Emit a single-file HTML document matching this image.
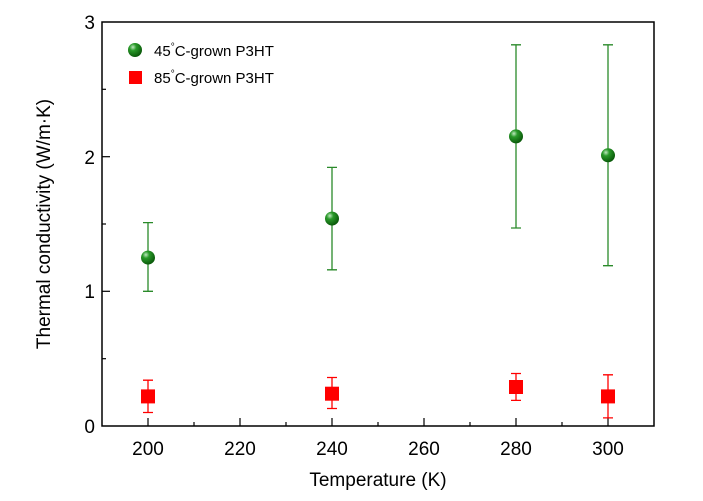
<!DOCTYPE html>
<html><head><style>body{margin:0;background:#fff}</style></head><body>
<svg width="703" height="496" xmlns="http://www.w3.org/2000/svg" font-family="Liberation Sans, Arial, sans-serif">
<defs><radialGradient id="g" cx="0.35" cy="0.3" r="0.7"><stop offset="0" stop-color="#bfe8bf"/><stop offset="0.35" stop-color="#2a9a2a"/><stop offset="1" stop-color="#0a5a0a"/></radialGradient></defs>
<rect x="102" y="22" width="552" height="404" fill="none" stroke="#000" stroke-width="1.5"/>
<g stroke="#000" stroke-width="1.2">
<line x1="148" y1="426" x2="148" y2="418"/><line x1="194" y1="426" x2="194" y2="422"/>
<line x1="240" y1="426" x2="240" y2="418"/><line x1="286" y1="426" x2="286" y2="422"/>
<line x1="332" y1="426" x2="332" y2="418"/><line x1="378" y1="426" x2="378" y2="422"/>
<line x1="424" y1="426" x2="424" y2="418"/><line x1="470" y1="426" x2="470" y2="422"/>
<line x1="516" y1="426" x2="516" y2="418"/><line x1="562" y1="426" x2="562" y2="422"/>
<line x1="608" y1="426" x2="608" y2="418"/>
<line x1="102" y1="358.7" x2="106" y2="358.7"/><line x1="102" y1="291.3" x2="110" y2="291.3"/>
<line x1="102" y1="224" x2="106" y2="224"/><line x1="102" y1="156.7" x2="110" y2="156.7"/>
<line x1="102" y1="89.3" x2="106" y2="89.3"/>
</g>
<g font-size="19" text-anchor="middle" fill="#000">
<text x="148" y="455">200</text><text x="240" y="455">220</text><text x="332" y="455">240</text><text x="424" y="455">260</text><text x="516" y="455">280</text><text x="608" y="455">300</text>
</g>
<g font-size="19" text-anchor="end"><text x="95" y="433">0</text><text x="95" y="298">1</text><text x="95" y="164">2</text><text x="95" y="29">3</text></g>
<text x="378" y="486" font-size="19" text-anchor="middle">Temperature (K)</text>
<text transform="translate(50,224) rotate(-90)" font-size="19" text-anchor="middle">Thermal conductivity (W/m·K)</text>
<g stroke="#2a8a2a" stroke-width="1.3">
<path d="M148 291.3V222.6M143 291.3h10M143 222.6h10"/>
<path d="M332 269.8V167.4M327 269.8h10M327 167.4h10"/>
<path d="M516 228V44.8M511 228h10M511 44.8h10"/>
<path d="M608 265.7V44.8M603 265.7h10M603 44.8h10"/>
</g>
<g fill="url(#g)"><circle cx="148" cy="257.6" r="7"/><circle cx="332" cy="218.6" r="7"/><circle cx="516" cy="136.4" r="7"/><circle cx="608" cy="155.3" r="7"/><circle cx="135" cy="50" r="7"/></g>
<g stroke="#f00" stroke-width="1.3">
<path d="M148 412.5V380.2M143 412.5h10M143 380.2h10"/>
<path d="M332 408.5V377.5M327 408.5h10M327 377.5h10"/>
<path d="M516 400.4V373.5M511 400.4h10M511 373.5h10"/>
<path d="M608 417.9V374.8M603 417.9h10M603 374.8h10"/>
</g>
<g fill="#f00"><rect x="141" y="389.4" width="14" height="14"/><rect x="325" y="386.7" width="14" height="14"/><rect x="509" y="380" width="14" height="14"/><rect x="601" y="389.4" width="14" height="14"/><rect x="129" y="71" width="13" height="13"/></g>
<g font-size="15"><text x="154" y="56">45<tspan font-size="10" dy="-6">°</tspan><tspan dy="6">C-grown P3HT</tspan></text>
<text x="154" y="83">85<tspan font-size="10" dy="-6">°</tspan><tspan dy="6">C-grown P3HT</tspan></text></g>
</svg>
</body></html>
